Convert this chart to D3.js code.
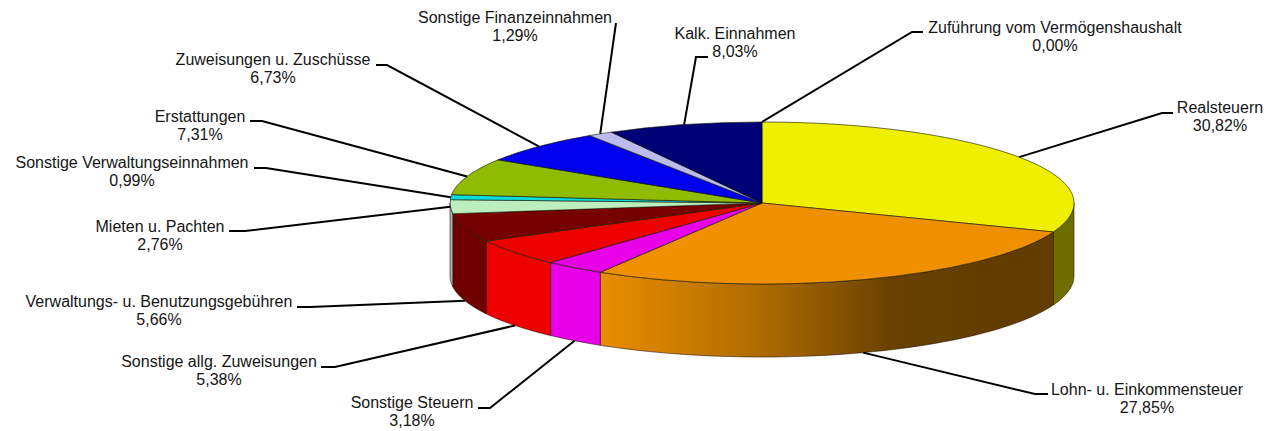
<!DOCTYPE html>
<html>
<head>
<meta charset="utf-8">
<script src="https://cdn.jsdelivr.net/npm/d3@7"></script>
<style>
html,body{margin:0;padding:0;background:#fff;overflow:hidden}
svg{display:block}
text{font-family:"Liberation Sans",Arial,sans-serif;font-size:16px;fill:#151515}
</style>
</head>
<body>
<svg id="c" width="1268" height="431"></svg>
<script>
// Data
const categories = ["Realsteuern","Lohn- u. Einkommensteuer","Sonstige Steuern","Sonstige allg. Zuweisungen","Verwaltungs- u. Benutzungsgebühren","Mieten u. Pachten","Sonstige Verwaltungseinnahmen","Erstattungen","Zuweisungen u. Zuschüsse","Sonstige Finanzeinnahmen","Kalk. Einnahmen","Zuführung vom Vermögenshaushalt"];
const shares = [30.82,27.85,3.18,5.38,5.66,2.76,0.99,7.31,6.73,1.29,8.03,0.00];
const topColors = ["#EFEF00","#F09000","#E800E8","#EE0000","#770000","#BDEEBD","#10DCDC","#8FBC00","#0000EE","#BBBBEE","#000077","#FFFFFF"];
const sideColors = ["#6E6E00","url(#lohn)","#E800E8","#EE0000","#6E0000","#A8B8A8","#10DCDC","#8FBC00","#0000EE","#BBBBEE","#000077","#FFFFFF"];

// Layout (not data): pie geometry and label placement
const cx = 762, cy = 203, rx = 312, ry = 81, depth = 73;
const labelCenterX = [1220,1147,412,219,159,160,132,200,273,515,735,1055];
const labelBaseY   = [113,395,408,367,307,232,168,122,65,23,39,33];
const stubOuterX   = [1173,1048,478,321,297,229,254,250,376,616,708,923];
const stubInnerX   = [1162,1035,490,335,310,245,266,262,387,616,696,912];
const stubY        = [113,394,408,367,307,231,168,121,65,23,57,32];
const lineGap = 18.3;

const svg = d3.select("#c");
const defs = svg.append("defs");
const grad = defs.append("linearGradient").attr("id","lohn")
  .attr("gradientUnits","userSpaceOnUse").attr("x1",600).attr("x2",1055).attr("y1",0).attr("y2",0);
[[0,"#E98D00"],[0.35,"#AE6C00"],[0.65,"#674000"],[1,"#623C00"]].forEach(s=>grad.append("stop").attr("offset",s[0]).attr("stop-color",s[1]));
defs.append("filter").attr("id","soft").attr("x","-5%").attr("y","-5%").attr("width","110%").attr("height","110%")
  .append("feGaussianBlur").attr("stdDeviation",0.45);

const arcs = d3.pie().value(d=>d).sort(null)(shares);
const pt = (a,dy=0)=>[cx+rx*Math.sin(a), cy-ry*Math.cos(a)+dy];

const pie3d = svg.append("g").attr("filter","url(#soft)");

// side walls: the front half of the ellipse only
const lo = Math.PI/2, hi = 3*Math.PI/2;
const wall = d3.line();
pie3d.append("g").selectAll("path").data(arcs.filter(d=>d.endAngle>lo && d.startAngle<hi && d.value>0)).join("path")
  .attr("d",d=>{
    const a0=Math.max(d.startAngle,lo), a1=Math.min(d.endAngle,hi);
    const as=d3.range(0,61).map(i=>a0+(a1-a0)*i/60);
    return wall(as.map(a=>pt(a)).concat(as.slice().reverse().map(a=>pt(a,depth))))+"Z";
  })
  .attr("fill",d=>sideColors[d.index])
  .attr("stroke","rgba(30,15,0,.55)").attr("stroke-width",1);

// top face: unit-radius d3.arc squashed onto the ellipse
const arc = d3.arc().innerRadius(0).outerRadius(1);
pie3d.append("g").attr("transform",`translate(${cx},${cy}) scale(${rx},${ry})`)
  .selectAll("path").data(arcs.filter(d=>d.value>0)).join("path")
  .attr("d",arc)
  .attr("fill",d=>topColors[d.index])
  .attr("stroke","rgba(20,20,0,.6)").attr("stroke-width",1)
  .attr("vector-effect","non-scaling-stroke");

// leader lines, anchored at each slice's mid angle
const leader = d3.line();
svg.append("g").selectAll("path").data(arcs).join("path")
  .attr("d",d=>{
    const m=(d.startAngle+d.endAngle)/2;
    const onWall = m>lo && m<hi-0.06;
    return leader([[stubOuterX[d.index],stubY[d.index]],[stubInnerX[d.index],stubY[d.index]],pt(m,onWall?depth:0)]);
  })
  .attr("fill","none").attr("stroke","#000").attr("stroke-width",2);

// labels
const fmt = v=>v.toFixed(2).replace(".",",")+"%";
const lab = svg.append("g").attr("text-anchor","middle").selectAll("g").data(arcs).join("g");
lab.append("text").attr("x",d=>labelCenterX[d.index]).attr("y",d=>labelBaseY[d.index]).text(d=>categories[d.index]);
lab.append("text").attr("x",d=>labelCenterX[d.index]).attr("y",d=>labelBaseY[d.index]+lineGap).text(d=>fmt(d.value));
</script>
</body>
</html>
